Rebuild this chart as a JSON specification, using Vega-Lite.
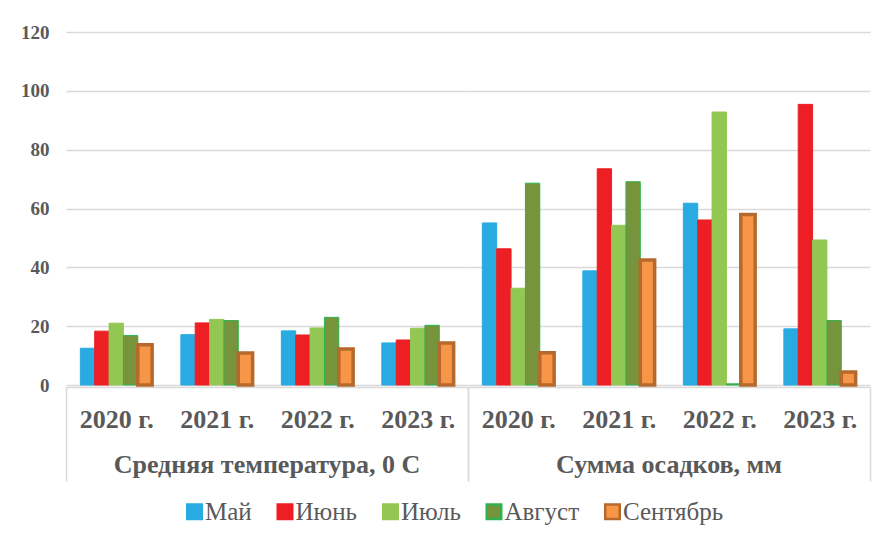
{
  "$schema": "https://vega.github.io/schema/vega-lite/v6.json",
  "background": "white",
  "padding": {"left": 20, "top": 23, "right": 8, "bottom": 4},
  "data": {"values": [
    {"cat": "Средняя температура, 0 С", "year": "2020 г.", "month": "Май", "value": 12.5},
    {"cat": "Средняя температура, 0 С", "year": "2020 г.", "month": "Июнь", "value": 18.3},
    {"cat": "Средняя температура, 0 С", "year": "2020 г.", "month": "Июль", "value": 21.0},
    {"cat": "Средняя температура, 0 С", "year": "2020 г.", "month": "Август", "value": 16.8},
    {"cat": "Средняя температура, 0 С", "year": "2020 г.", "month": "Сентябрь", "value": 13.7},
    {"cat": "Средняя температура, 0 С", "year": "2021 г.", "month": "Май", "value": 17.1},
    {"cat": "Средняя температура, 0 С", "year": "2021 г.", "month": "Июнь", "value": 21.1},
    {"cat": "Средняя температура, 0 С", "year": "2021 г.", "month": "Июль", "value": 22.3},
    {"cat": "Средняя температура, 0 С", "year": "2021 г.", "month": "Август", "value": 21.9},
    {"cat": "Средняя температура, 0 С", "year": "2021 г.", "month": "Сентябрь", "value": 10.9},
    {"cat": "Средняя температура, 0 С", "year": "2022 г.", "month": "Май", "value": 18.4},
    {"cat": "Средняя температура, 0 С", "year": "2022 г.", "month": "Июнь", "value": 17.0},
    {"cat": "Средняя температура, 0 С", "year": "2022 г.", "month": "Июль", "value": 19.4},
    {"cat": "Средняя температура, 0 С", "year": "2022 г.", "month": "Август", "value": 23.0},
    {"cat": "Средняя температура, 0 С", "year": "2022 г.", "month": "Сентябрь", "value": 12.2},
    {"cat": "Средняя температура, 0 С", "year": "2023 г.", "month": "Май", "value": 14.3},
    {"cat": "Средняя температура, 0 С", "year": "2023 г.", "month": "Июнь", "value": 15.3},
    {"cat": "Средняя температура, 0 С", "year": "2023 г.", "month": "Июль", "value": 19.3},
    {"cat": "Средняя температура, 0 С", "year": "2023 г.", "month": "Август", "value": 20.3},
    {"cat": "Средняя температура, 0 С", "year": "2023 г.", "month": "Сентябрь", "value": 14.3},
    {"cat": "Сумма осадков, мм", "year": "2020 г.", "month": "Май", "value": 55.1},
    {"cat": "Сумма осадков, мм", "year": "2020 г.", "month": "Июнь", "value": 46.3},
    {"cat": "Сумма осадков, мм", "year": "2020 г.", "month": "Июль", "value": 32.9},
    {"cat": "Сумма осадков, мм", "year": "2020 г.", "month": "Август", "value": 68.6},
    {"cat": "Сумма осадков, мм", "year": "2020 г.", "month": "Сентябрь", "value": 11.0},
    {"cat": "Сумма осадков, мм", "year": "2021 г.", "month": "Май", "value": 38.8},
    {"cat": "Сумма осадков, мм", "year": "2021 г.", "month": "Июнь", "value": 73.5},
    {"cat": "Сумма осадков, мм", "year": "2021 г.", "month": "Июль", "value": 54.3},
    {"cat": "Сумма осадков, мм", "year": "2021 г.", "month": "Август", "value": 69.1},
    {"cat": "Сумма осадков, мм", "year": "2021 г.", "month": "Сентябрь", "value": 42.5},
    {"cat": "Сумма осадков, мм", "year": "2022 г.", "month": "Май", "value": 61.8},
    {"cat": "Сумма осадков, мм", "year": "2022 г.", "month": "Июнь", "value": 56.1},
    {"cat": "Сумма осадков, мм", "year": "2022 г.", "month": "Июль", "value": 92.8},
    {"cat": "Сумма осадков, мм", "year": "2022 г.", "month": "Август", "value": 0.4},
    {"cat": "Сумма осадков, мм", "year": "2022 г.", "month": "Сентябрь", "value": 58.0},
    {"cat": "Сумма осадков, мм", "year": "2023 г.", "month": "Май", "value": 19.1},
    {"cat": "Сумма осадков, мм", "year": "2023 г.", "month": "Июнь", "value": 95.4},
    {"cat": "Сумма осадков, мм", "year": "2023 г.", "month": "Июль", "value": 49.3},
    {"cat": "Сумма осадков, мм", "year": "2023 г.", "month": "Август", "value": 21.9},
    {"cat": "Сумма осадков, мм", "year": "2023 г.", "month": "Сентябрь", "value": 4.4}
  ]},
  "spacing": 0,
  "facet": {
    "column": {
      "field": "cat",
      "type": "nominal",
      "sort": ["Средняя температура, 0 С", "Сумма осадков, мм"],
      "title": null,
      "header": {
        "labelOrient": "bottom",
        "labelFont": "Liberation Serif",
        "labelFontSize": 26,
        "labelFontWeight": "bold",
        "labelColor": "#595959",
        "labelPadding": -30
      }
    }
  },
  "spec": {
    "width": 402,
    "height": 353,
    "mark": {"type": "bar"},
    "encoding": {
      "x": {
        "field": "year",
        "type": "nominal",
        "title": null,
        "scale": {"paddingInner": 0, "paddingOuter": 0},
        "axis": {
          "labelAngle": 0,
          "labelFont": "Liberation Serif",
          "labelFontSize": 26,
          "labelFontWeight": "bold",
          "labelColor": "#595959",
          "domainColor": "#d9d9d9",
          "domainWidth": 1.5,
          "tickColor": "#d9d9d9",
          "tickWidth": 1.5,
          "tickBand": "extent",
          "tickSize": 94,
          "tickOpacity": {"condition": {"test": "datum.index < 0 || datum.extra || datum.value == '2023 г.'", "value": 1}, "value": 0},
          "labelPadding": -75
        }
      },
      "xOffset": {
        "field": "month",
        "type": "nominal",
        "sort": ["Май", "Июнь", "Июль", "Август", "Сентябрь"],
        "scale": {"paddingInner": 0, "paddingOuter": 1.04}
      },
      "y": {
        "field": "value",
        "type": "quantitative",
        "title": null,
        "scale": {"domain": [0, 120]},
        "axis": {
          "values": [0, 20, 40, 60, 80, 100, 120],
          "domain": false,
          "ticks": false,
          "gridColor": "#d9d9d9",
          "gridWidth": 1.5,
          "labelFont": "Liberation Serif",
          "labelFontSize": 19,
          "labelFontWeight": "bold",
          "labelColor": "#595959",
          "labelPadding": 17
        }
      },
      "fill": {
        "field": "month",
        "type": "nominal",
        "title": null,
        "sort": ["Май", "Июнь", "Июль", "Август", "Сентябрь"],
        "scale": {"domain": ["Май", "Июнь", "Июль", "Август", "Сентябрь"], "range": ["#29abe2", "#ed1f24", "#92c754", "#77933c", "#f79646"]},
        "legend": {
          "orient": "none",
          "legendX": 116,
          "legendY": 467,
          "direction": "horizontal",
          "symbolType": "square",
          "symbolSize": 210,
          "symbolStrokeWidth": 2.5,
          "labelFont": "Liberation Serif",
          "labelFontSize": 25,
          "labelColor": "#595959",
          "labelOffset": -2,
          "columnPadding": 20.5
        }
      },
      "stroke": {
        "field": "month",
        "type": "nominal",
        "title": null,
        "sort": ["Май", "Июнь", "Июль", "Август", "Сентябрь"],
        "scale": {"domain": ["Май", "Июнь", "Июль", "Август", "Сентябрь"], "range": ["#29abe2", "#ed1f24", "#92c754", "#2db24e", "#b5692c"]}
      },
      "strokeWidth": {"condition": {"test": "datum.month == 'Сентябрь'", "value": 3.5}, "value": 1}
    }
  },
  "config": {"view": {"stroke": null}}
}
